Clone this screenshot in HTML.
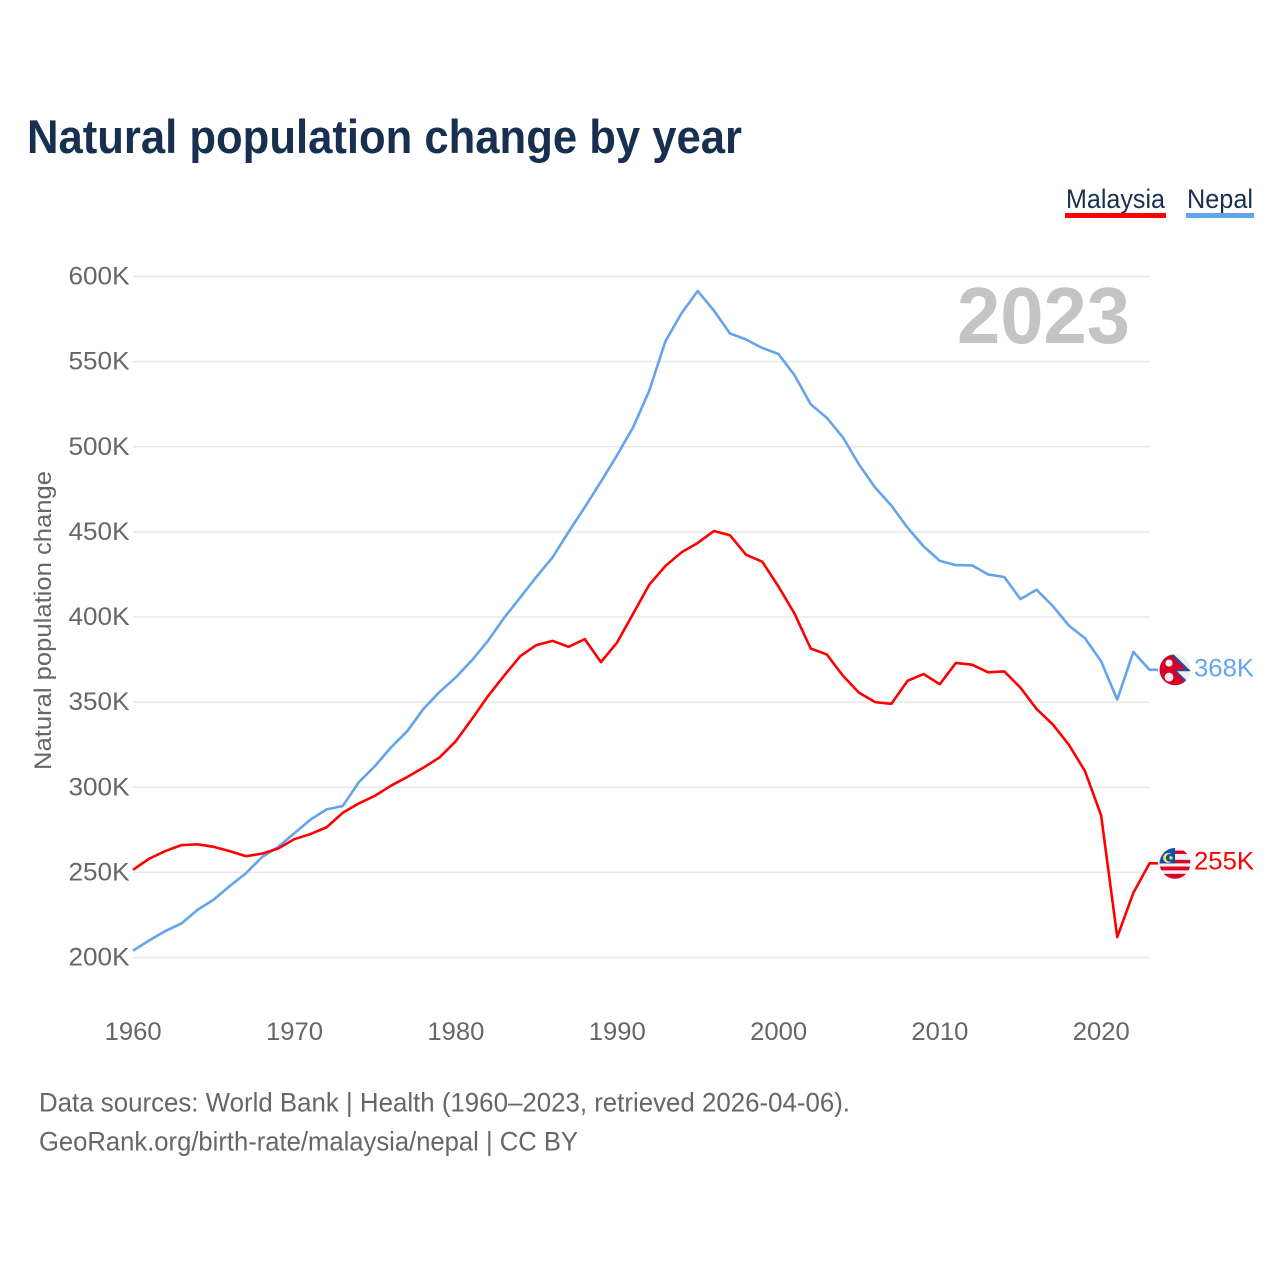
<!DOCTYPE html>
<html lang="en">
<head>
<meta charset="utf-8">
<title>Natural population change by year</title>
<style>
html,body{margin:0;padding:0;background:#fff;width:1280px;height:1280px;overflow:hidden}
svg{display:block;font-family:"Liberation Sans",sans-serif}
</style>
</head>
<body>
<svg id="chart" xmlns="http://www.w3.org/2000/svg" width="1280" height="1280" viewBox="0 0 1280 1280">
  <defs>
    <clipPath id="flag-clip"><circle cx="0" cy="0" r="15.4"/></clipPath>
  </defs>
  <rect x="0" y="0" width="1280" height="1280" fill="#fff"/>
  <text x="27" y="153" font-size="47" font-weight="700" fill="#18304f" textLength="715" lengthAdjust="spacingAndGlyphs">Natural population change by year</text>

  <g>
    <g>
      <text x="1066" y="208" font-size="27" fill="#18304f" textLength="99" lengthAdjust="spacingAndGlyphs">Malaysia</text>
      <rect x="1065" y="213" width="101" height="5" fill="#ff0000"/>
    </g>
    <g>
      <text x="1187" y="208" font-size="27" fill="#18304f" textLength="66" lengthAdjust="spacingAndGlyphs">Nepal</text>
      <rect x="1186" y="213" width="68" height="5" fill="#63a5ec"/>
    </g>
  </g>

  <g id="grid"></g>
  <g id="y-ticks"></g>
  <g id="x-ticks"></g>

  <text transform="translate(51,770) rotate(-90)" x="0" y="0" font-size="24" fill="#666" textLength="299" lengthAdjust="spacingAndGlyphs">Natural population change</text>
  <text x="957" y="343" font-size="80" font-weight="700" fill="#c4c4c4" textLength="173" lengthAdjust="spacingAndGlyphs">2023</text>

  <g id="series"></g>

  <g id="flag-nepal">
    <g clip-path="url(#flag-clip)">
      <rect x="-16" y="-16" width="32" height="32" fill="#f0f0f0"/>
      <polygon points="-16,-17 -3,-17 16,1.5 2,1.5 15,14 15,17 -16,17" fill="#1f4f9c"/>
      <polygon points="-16,-17 -6,-17 10.5,-0.2 -1,-0.2 11,13.5 11,17 -16,17" fill="#d80027"/>
      <circle cx="-6" cy="-6.7" r="3.6" fill="#f0f0f0"/>
      <circle cx="-6" cy="7.3" r="4.4" fill="#f0f0f0"/>
    </g>
  </g>

  <g id="flag-malaysia">
    <g clip-path="url(#flag-clip)">
      <rect x="-16" y="-16" width="32" height="32" fill="#f0f0f0"/>
      <rect x="-16" y="-12.8" width="32" height="3.4" fill="#d80027"/>
      <rect x="-16" y="-3.5" width="32" height="3.5" fill="#d80027"/>
      <rect x="-16" y="3.2" width="32" height="3.8" fill="#d80027"/>
      <rect x="-16" y="10.5" width="32" height="5.5" fill="#d80027"/>
      <rect x="-16" y="-16" width="16" height="16" fill="#0052b4"/>
      <circle cx="-7" cy="-5.5" r="5" fill="#ffda44"/>
      <circle cx="-5.2" cy="-5.5" r="3.9" fill="#0052b4"/>
      <circle cx="-4" cy="-5.5" r="1.7" fill="#ffda44"/>
    </g>
  </g>

  <g id="end-labels"></g>

  <text x="39" y="1111.5" font-size="27" fill="#666" textLength="811" lengthAdjust="spacingAndGlyphs">Data sources: World Bank | Health (1960–2023, retrieved 2026-04-06).</text>
  <text x="39" y="1150.5" font-size="27" fill="#666" textLength="539" lengthAdjust="spacingAndGlyphs">GeoRank.org/birth-rate/malaysia/nepal | CC BY</text>
</svg>

<script>
const firstYear = 1960;
const lastYear = 2023;
const yTickValues = [200, 250, 300, 350, 400, 450, 500, 550, 600];
const xTickValues = [1960, 1970, 1980, 1990, 2000, 2010, 2020];
const years = [1960,1961,1962,1963,1964,1965,1966,1967,1968,1969,1970,1971,1972,1973,1974,1975,1976,1977,1978,1979,1980,1981,1982,1983,1984,1985,1986,1987,1988,1989,1990,1991,1992,1993,1994,1995,1996,1997,1998,1999,2000,2001,2002,2003,2004,2005,2006,2007,2008,2009,2010,2011,2012,2013,2014,2015,2016,2017,2018,2019,2020,2021,2022,2023];
const nepalValues = [204,210,215.5,220,228,234,242,249.5,259,265,273,281,287,289,303,312.5,323.5,333,346,356,364.5,374.5,386,399.5,411.5,423.5,435,450,464.5,479.5,495,511.5,533,562,578.5,591.5,580,566.5,563,558,554.5,542,525,517,505.5,489.5,476,465.5,452.5,441.5,433,430.5,430.3,425,423.5,410.5,416,406.5,395,387.5,374,351.5,379.5,369];
const malaysiaValues = [251.5,258,262.5,266,266.5,265,262.5,259.5,261,264,269.5,272.5,276.5,285,290.5,295,301,306,311.5,317.5,327,340,353.5,365.5,377,383.5,386,382.5,387,373.5,385,402,419,430,438,443.5,450.5,448,436.5,432.5,418,402,381.5,378,365.5,355.5,350,349,362.5,366.5,360.5,373,372,367.5,368,358.5,346,337,325,309.5,283.5,212,238,255.3];
const endLabelNepal = "368K";
const endLabelMalaysia = "255K";

const SVGNS = "http://www.w3.org/2000/svg";
const plotLeft = 133, plotRight = 1149.5, y200 = 957.5, y600 = 276.5, connectorEnd = 1158;
function xScale(year) {
  return plotLeft + (year - firstYear) * (plotRight - plotLeft) / (lastYear - firstYear);
}
function yScale(value) {
  return y200 + (value - 200) * (y600 - y200) / 400;
}
function make(tag, attrs, text) {
  const el = document.createElementNS(SVGNS, tag);
  for (const k in attrs) el.setAttribute(k, attrs[k]);
  if (text !== undefined) el.textContent = text;
  return el;
}

const gridGroup = document.getElementById("grid");
const yGroup = document.getElementById("y-ticks");
yTickValues.forEach(function (v) {
  const line = make("line", {x1: plotLeft, x2: 1149.5, y1: yScale(v), y2: yScale(v), stroke: "#e8e8e8", "stroke-width": 1.5});
  
  
  gridGroup.appendChild(line);
  const label = make("text", {x: 68.5, y: yScale(v) + 8, "font-size": 25, fill: "#666", textLength: 61, lengthAdjust: "spacingAndGlyphs"}, v + "K");
  
  
  yGroup.appendChild(label);
});

const xGroup = document.getElementById("x-ticks");
xTickValues.forEach(function (yr) {
  const label = make("text", {x: xScale(yr) - 28.3, y: 1040, "font-size": 25, fill: "#666", textLength: 57, lengthAdjust: "spacingAndGlyphs"}, String(yr));
  
  
  xGroup.appendChild(label);
});

function linePoints(values) {
  const pts = values.map(function (v, i) {
    return xScale(years[i]).toFixed(2) + "," + yScale(v).toFixed(2);
  });
  pts.push(connectorEnd + "," + yScale(values[values.length - 1]).toFixed(2));
  return pts.join(" ");
}
const seriesGroup = document.getElementById("series");
const nepalLine = make("polyline", {points: linePoints(nepalValues), fill: "none", stroke: "#63a5ec", "stroke-width": 2.6, "stroke-linejoin": "round"});


seriesGroup.appendChild(nepalLine);
const malaysiaLine = make("polyline", {points: linePoints(malaysiaValues), fill: "none", stroke: "#ff0000", "stroke-width": 2.6, "stroke-linejoin": "round"});


seriesGroup.appendChild(malaysiaLine);

const nepalEndY = yScale(nepalValues[nepalValues.length - 1]);
const malaysiaEndY = yScale(malaysiaValues[malaysiaValues.length - 1]);
document.getElementById("flag-nepal").setAttribute("transform", "translate(1175," + nepalEndY + ")");
document.getElementById("flag-malaysia").setAttribute("transform", "translate(1175," + malaysiaEndY + ")");

const endGroup = document.getElementById("end-labels");
const nepalEnd = make("text", {x: 1194, y: nepalEndY + 6.5, "font-size": 25, fill: "#63a5ec", textLength: 60, lengthAdjust: "spacingAndGlyphs"}, endLabelNepal);


endGroup.appendChild(nepalEnd);
const malaysiaEnd = make("text", {x: 1194, y: malaysiaEndY + 6, "font-size": 25, fill: "#ff0000", textLength: 60, lengthAdjust: "spacingAndGlyphs"}, endLabelMalaysia);


endGroup.appendChild(malaysiaEnd);
</script>
</body>
</html>
